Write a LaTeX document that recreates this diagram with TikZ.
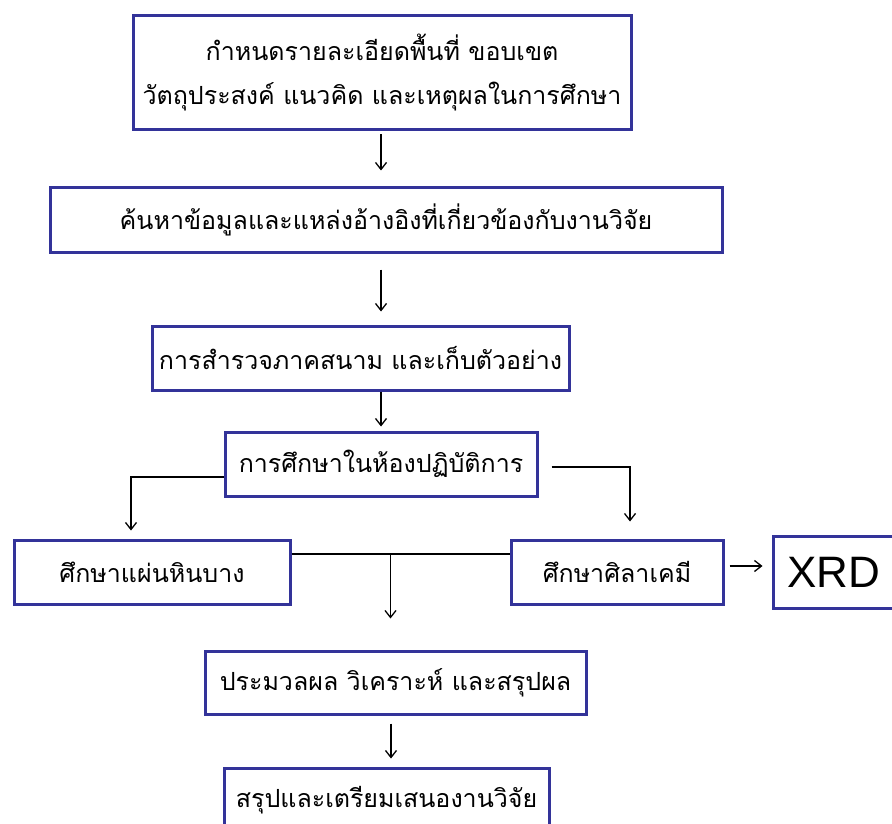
\documentclass[tikz,border=0pt]{standalone}
\usepackage{fontspec}
\newfontfamily\thaifont[Script=Thai]{Loma}
\setmainfont{Liberation Sans}
\usetikzlibrary{arrows.meta}
\definecolor{boxblue}{HTML}{333399}
\tikzset{
  stepbox/.style={draw=boxblue, line width=3pt, fill=white, inner sep=0pt, align=center,
     font=\thaifont\fontsize{25}{44}\selectfont},
  arr/.style={draw=black, line width=1.3pt, -{Straight Barb[length=7pt,width=11pt,line width=1.3pt]}},
  ln/.style={draw=black, line width=1.3pt}
}
\begin{document}
\begin{tikzpicture}[x=1pt,y=-1pt]
\useasboundingbox (0,0) rectangle (892,824);
\node[stepbox, minimum width=498pt, minimum height=114pt] (b1) at (382,73)
  {กำหนดรายละเอียดพื้นที่ ขอบเขต\\วัตถุประสงค์ แนวคิด และเหตุผลในการศึกษา};
\node[stepbox, minimum width=672pt, minimum height=64pt] (b2) at (386,220)
  {ค้นหาข้อมูลและแหล่งอ้างอิงที่เกี่ยวข้องกับงานวิจัย};
\node[stepbox, minimum width=417pt, minimum height=64pt] (b3) at (360.5,358)
  {การสำรวจภาคสนาม และเก็บตัวอย่าง};
\node[stepbox, minimum width=312pt, minimum height=64pt] (b4) at (381,464)
  {การศึกษาในห้องปฏิบัติการ};
\node[stepbox, minimum width=276pt, minimum height=64pt] (b5) at (152,572)
  {ศึกษาแผ่นหินบาง};
\node[stepbox, minimum width=212pt, minimum height=64pt] (b6) at (617,572)
  {ศึกษาศิลาเคมี};
\node[stepbox, minimum width=127pt, minimum height=72pt] (xrd) at (836.5,572) {};
\node[font=\fontsize{44}{44}\selectfont, inner sep=0pt] (xrdt) at (833.5,572) {XRD};
\node[stepbox, minimum width=381pt, minimum height=63pt] (b7) at (395.5,682.5)
  {ประมวลผล วิเคราะห์ และสรุปผล};
\node[stepbox, minimum width=325pt, minimum height=64pt] (b8) at (386.5,800)
  {สรุปและเตรียมเสนองานวิจัย};

\draw[arr] ([xshift=-1pt,yshift=-3pt]b1.south) -- ([xshift=-1pt,yshift=16pt]b1.south |- b2.north);
\draw[arr] ([xshift=-5pt,yshift=-16pt]b2.south) -- ([xshift=-5pt,yshift=13pt]b2.south |- b3.north);
\draw[arr] (b4.north |- b3.south) -- ([yshift=4pt]b4.north);
\draw[arr] ([yshift=-13pt]b4.west) -| ([xshift=-21pt,yshift=8pt]b5.north);
\draw[arr] ([xshift=13pt,yshift=-3pt]b4.east) -| ([xshift=13pt,yshift=17pt]b6.north);
\coordinate (jl) at ([yshift=18pt]b5.east);
\draw[ln] (jl) -- ([yshift=18pt]b6.west);
\draw[arr] ([xshift=-5pt]b7.north |- jl) -- ([xshift=-5pt,yshift=31pt]b7.north);
\draw[arr] ([xshift=5pt,yshift=6pt]b6.east) -- ([xshift=-9pt,yshift=6pt]xrd.west);
\coordinate (b7s) at ([xshift=-4.5pt]b7.south);
\draw[arr] ([yshift=-8pt]b7s) -- ([yshift=8pt]b7s |- b8.north);
\end{tikzpicture}
\end{document}
